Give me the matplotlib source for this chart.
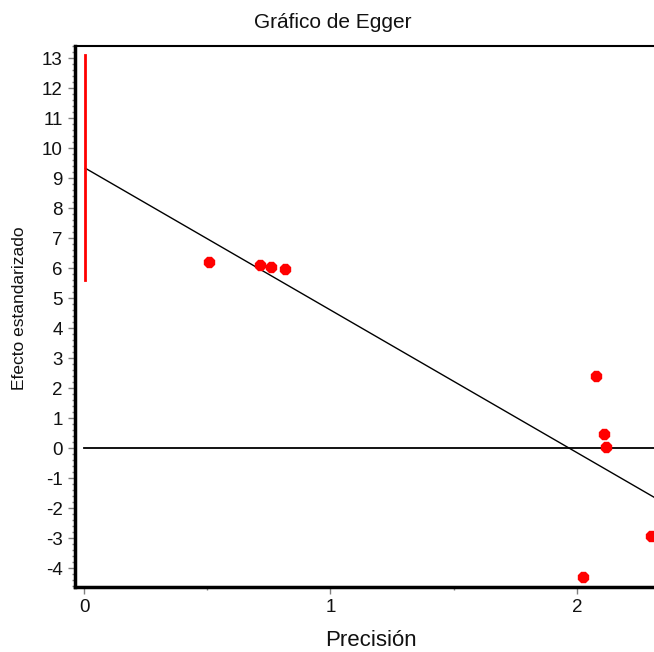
import numpy as np
import matplotlib.pyplot as plt
from matplotlib.ticker import MultipleLocator

# Egger regression: standardized effect vs precision
precision = [0.507, 0.714, 0.759, 0.815, 2.077, 2.110, 2.118, 2.300, 2.023]
std_effect = [6.21, 6.10, 6.04, 5.96, 2.40, 0.46, 0.04, -2.93, -4.29]

intercept = 9.35
slope = -4.75
ci_low, ci_high = 5.6, 13.1

plt.rcParams["font.family"] = ["Liberation Sans", "DejaVu Sans"]
plt.rcParams["font.size"] = 12.5
plt.rcParams["axes.unicode_minus"] = False

fig = plt.figure(figsize=(6.54, 6.52), dpi=100)
ax = fig.add_axes([0.1147, 0.0997, 0.918, 0.8302])

xmin, xmax = -0.037, 2.4
ax.set_xlim(xmin, xmax)
ax.set_ylim(-4.63, 13.41)

# reference line at zero
ax.plot([0.0, xmax], [0, 0], color="black", linewidth=1.3, zorder=2)

# fitted line
xs = np.array([0.005, xmax])
ax.plot(xs, intercept + slope * xs, color="black", linewidth=1.0, zorder=2)

# confidence interval of the intercept
ax.plot([0.004, 0.004], [ci_low, ci_high], color="red", linewidth=2, zorder=3)

ax.plot(precision, std_effect, linestyle="none", marker="8", markersize=7.5,
        color="red", markeredgecolor="red", zorder=4)

ax.xaxis.set_major_locator(MultipleLocator(1))
ax.xaxis.set_minor_locator(MultipleLocator(0.5))
ax.yaxis.set_major_locator(MultipleLocator(1))
ax.yaxis.set_minor_locator(MultipleLocator(0.2))

ax.tick_params(axis="both", which="major", length=5, width=1, color="#808080",
               labelcolor="#111111", pad=4, labelsize=13.5)
ax.tick_params(axis="both", which="minor", length=2.5, width=1, color="#808080")

ax.spines["left"].set_linewidth(2.5)
ax.spines["bottom"].set_linewidth(2.5)
ax.spines["top"].set_linewidth(1.5)
ax.spines["right"].set_visible(False)
for s in ax.spines.values():
    s.set_color("black")

fig.text(333 / 654, 1 - 23 / 652, "Gráfico de Egger", ha="center", va="center",
         color="#111111", fontsize=15)
fig.text(371 / 654, 1 - 640 / 652, "Precisión", ha="center", va="center",
         color="#111111", fontsize=16)
fig.text(20 / 654, 1 - 308 / 652, "Efecto estandarizado", ha="center", va="center",
         rotation=90, color="#111111")

fig.savefig("out.png", dpi=100)
